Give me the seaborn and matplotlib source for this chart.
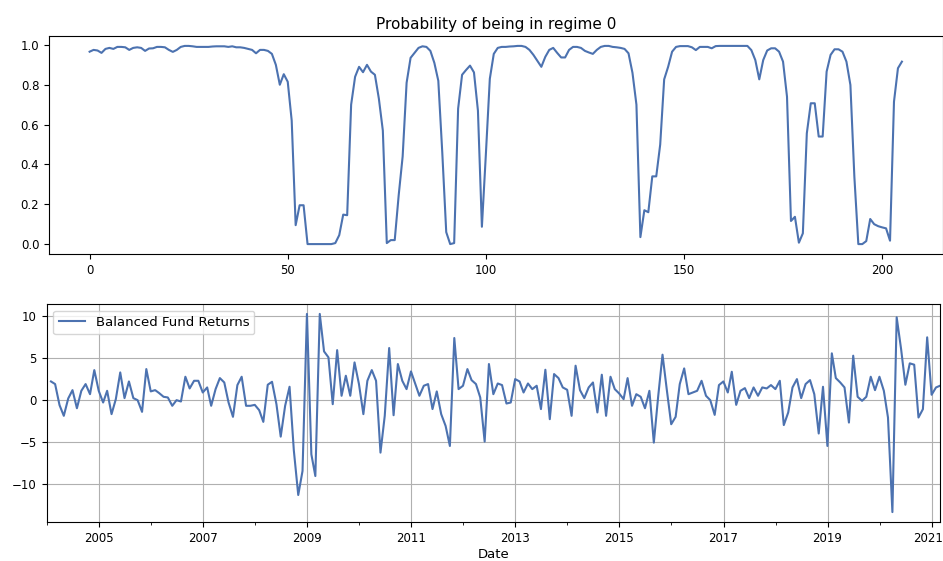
import numpy as np
import pandas as pd
import matplotlib
matplotlib.use("Agg")
import matplotlib.pyplot as plt
import matplotlib.transforms as mtransforms
import seaborn as sns

# Probability of being in regime 0 (206 observations, index 0..205)
regime0_prob = [
    0.966, 0.975, 0.972, 0.960, 0.980, 0.985, 0.980, 0.990, 0.990, 0.988,
    0.975, 0.985, 0.988, 0.985, 0.970, 0.982, 0.983, 0.990, 0.990, 0.988,
    0.975, 0.965, 0.975, 0.990, 0.995, 0.995, 0.993, 0.990, 0.990, 0.990,
    0.990, 0.992, 0.993, 0.993, 0.993, 0.990, 0.993, 0.988, 0.988, 0.985,
    0.980, 0.975, 0.958, 0.975, 0.975, 0.970, 0.955, 0.900, 0.800, 0.853,
    0.815, 0.620, 0.095, 0.195, 0.195, 0.000, 0.000, 0.000, 0.000, 0.000,
    0.000, 0.000, 0.005, 0.045, 0.148, 0.145, 0.700, 0.840, 0.890, 0.863,
    0.900, 0.866, 0.850, 0.730, 0.570, 0.005, 0.020, 0.020, 0.245, 0.440,
    0.810, 0.935, 0.960, 0.985, 0.993, 0.990, 0.970, 0.910, 0.820, 0.460,
    0.060, 0.000, 0.005, 0.680, 0.850, 0.874, 0.896, 0.862, 0.670, 0.087,
    0.450, 0.830, 0.955, 0.985, 0.990, 0.990, 0.992, 0.993, 0.995, 0.995,
    0.990, 0.975, 0.950, 0.920, 0.890, 0.940, 0.975, 0.985, 0.960, 0.937,
    0.937, 0.975, 0.990, 0.990, 0.985, 0.970, 0.962, 0.955, 0.975, 0.990,
    0.995, 0.995, 0.990, 0.988, 0.985, 0.980, 0.958, 0.860, 0.700, 0.035,
    0.170, 0.160, 0.340, 0.340, 0.500, 0.827, 0.890, 0.966, 0.990, 0.994,
    0.994, 0.994, 0.988, 0.974, 0.990, 0.990, 0.990, 0.983, 0.994, 0.995,
    0.995, 0.995, 0.995, 0.995, 0.995, 0.995, 0.995, 0.974, 0.924, 0.827,
    0.924, 0.972, 0.983, 0.983, 0.966, 0.916, 0.740, 0.116, 0.137, 0.007,
    0.054, 0.556, 0.707, 0.707, 0.540, 0.540, 0.866, 0.950, 0.978, 0.978,
    0.966, 0.916, 0.799, 0.338, 0.000, 0.000, 0.015, 0.126, 0.100, 0.090,
    0.084, 0.079, 0.017, 0.715, 0.883, 0.916,
]

# Monthly balanced fund returns, 2004-01 .. 2021-02 (month-end)
start_date = "2004-01-31"
fund_returns = [
    2.18, 1.87, -0.63, -1.90, 0.16, 1.15, -1.00, 1.07, 1.87, 0.67,
    3.53, 1.07, -0.32, 1.07, -1.70, 0.08, 3.25, 0.20, 2.18, 0.20,
    -0.04, -1.43, 3.65, 1.00, 1.15, 0.80, 0.36, 0.28, -0.71, -0.04,
    -0.20, 2.74, 1.35, 2.26, 2.26, 0.87, 1.47, -0.71, 1.27, 2.58,
    2.06, -0.32, -2.02, 1.75, 2.74, -0.71, -0.71, -0.60, -1.23, -2.62,
    1.79, 2.14, -0.52, -4.37, -0.71, 1.55, -6.00, -11.30, -8.45, 10.20,
    -6.47, -9.05, 10.20, 5.75, 5.04, -0.52, 5.90, 0.48, 2.86, 0.48,
    4.44, 1.87, -1.70, 2.26, 3.53, 2.26, -6.27, -1.90, 6.15, -1.83,
    4.25, 2.26, 1.27, 3.37, 1.87, 0.48, 1.67, 1.87, -1.10, 1.00,
    -1.70, -3.10, -5.48, 7.34, 1.27, 1.67, 3.65, 2.34, 1.87, 0.28,
    -4.96, 4.25, 0.67, 1.94, 1.75, -0.44, -0.32, 2.46, 2.18, 0.87,
    1.94, 1.27, 1.67, -1.10, 3.57, -2.30, 3.06, 2.58, 1.47, 1.19,
    -1.90, 4.05, 1.15, 0.20, 1.47, 2.06, -1.50, 2.98, -1.90, 2.74,
    1.27, 0.75, 0.08, 2.58, -0.71, 0.67, 0.36, -1.00, 1.07, -5.08,
    0.30, 5.36, 1.20, -2.90, -2.02, 1.87, 3.73, 0.67, 0.87, 1.07,
    2.26, 0.48, -0.04, -1.79, 1.75, 2.18, 0.87, 3.33, -0.60, 1.07,
    1.39, 0.20, 1.47, 0.48, 1.47, 1.35, 1.75, 1.27, 2.26, -3.00,
    -1.50, 1.47, 2.46, 0.20, 1.87, 2.34, 0.67, -4.00, 1.55, -5.48,
    5.52, 2.58, 2.06, 1.47, -2.70, 5.24, 0.36, -0.12, 0.36, 2.74,
    1.15, 2.74, 1.07, -2.10, -13.33, 9.80, 6.03, 1.79, 4.33, 4.17,
    -2.10, -1.11, 7.42, 0.60, 1.47, 1.67,
]

major_years = list(range(2005, 2022, 2))
minor_years = list(range(2004, 2022))

line_color = "#4C72B0"

dates = pd.date_range(start_date, periods=len(fund_returns), freq="ME")
df_prob = pd.DataFrame({"idx": np.arange(len(regime0_prob)), "prob": regime0_prob})
df_ret = pd.DataFrame({"Date": dates, "Balanced Fund Returns": fund_returns})

plt.rcParams["xtick.labelsize"] = 8.5
plt.rcParams["ytick.labelsize"] = 8.5

fig = plt.figure(figsize=(9.43, 5.61), dpi=100)
ax1 = fig.add_axes([49 / 943, 1 - 254 / 561, 1 - 49 / 943 - 0.0005, (254 - 36) / 561])
ax2 = fig.add_axes([46.7 / 943, 1 - 522 / 561, (940 - 46.7) / 943, (522 - 304) / 561])

sns.lineplot(data=df_prob, x="idx", y="prob", ax=ax1, color=line_color, linewidth=1.5)
ax1.set_title("Probability of being in regime 0", fontsize=11, pad=5)
ax1.set_xlabel("")
ax1.set_ylabel("")
ax1.set_xticks([0, 50, 100, 150, 200])
ax1.set_yticks([0.0, 0.2, 0.4, 0.6, 0.8, 1.0])

sns.lineplot(data=df_ret, x="Date", y="Balanced Fund Returns", ax=ax2,
             color=line_color, linewidth=1.5, label="Balanced Fund Returns")
ax2.set_xlim(dates[0], dates[-1])
ax2.set_xticks([pd.Timestamp(f"{y}-01-01") for y in major_years])
ax2.set_xticklabels([str(y) for y in major_years])
ax2.set_xticks([pd.Timestamp(f"{y}-01-01") for y in minor_years if y not in major_years], minor=True)
ax2.set_yticks([-10, -5, 0, 5, 10])
ax2.set_ylabel("")
ax2.set_xlabel("Date", fontsize=9.5, labelpad=2)
ax2.grid(True, which="major", color="#b0b0b0", linewidth=0.8)
ax2.legend(loc="upper left", fontsize=9.5)

# nudge the last tick label slightly left so it stays inside the canvas
last_label = ax2.get_xticklabels()[-1]
last_label.set_transform(last_label.get_transform() +
                         mtransforms.ScaledTranslation(-4 / 100, 0, fig.dpi_scale_trans))

fig.savefig("out.png", dpi=100)
